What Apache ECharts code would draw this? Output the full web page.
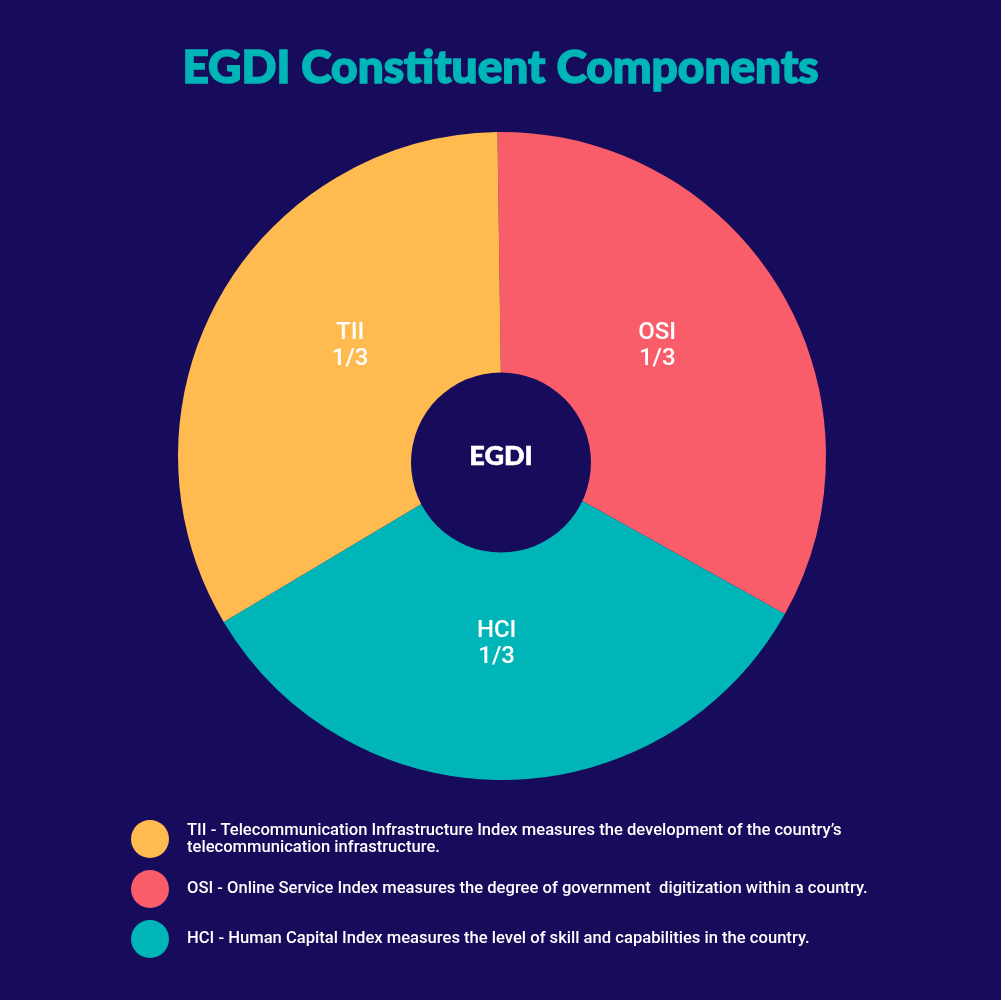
<!DOCTYPE html>
<html>
<head>
<meta charset="utf-8">
<title>EGDI Constituent Components</title>
<script src="https://cdn.jsdelivr.net/npm/echarts@6/dist/echarts.min.js"></script>
<style>
    html, body { margin: 0; padding: 0; background: #170b5b; }
    #chart { width: 1001px; height: 1000px; }
</style>
</head>
<body>
<div id="chart"></div>
<script>
var names = ["OSI", "HCI", "TII"];
var shares = [1, 1, 1];
var shareLabels = ["1/3", "1/3", "1/3"];
var legendOrder = ["TII", "OSI", "HCI"];
var legendTexts = {
    TII: "TII - Telecommunication Infrastructure Index measures the development of the country\u2019s\ntelecommunication infrastructure.",
    OSI: "OSI - Online Service Index measures the degree of government  digitization within a country.",
    HCI: "HCI - Human Capital Index measures the level of skill and capabilities in the country."
};
var colors = {OSI: "#f95d6a", HCI: "#00b5b8", TII: "#ffbb50"};
var bg = "#170b5b";

var myChart = echarts.init(document.getElementById("chart"), null, {renderer: "canvas"});

// the labels sit a bit off the slice middle in the original
var labelShift = {OSI: [-8, -13], HCI: [-8, -2], TII: [14, -17]};

var pieData = names.map(function (n, i) {
    return {
        name: n,
        value: shares[i],
        itemStyle: {color: colors[n]},
        label: {
            formatter: n + "\n" + shareLabels[i],
            offset: labelShift[n]
        }
    };
});

var option = {
    backgroundColor: bg,
    animation: false,
    title: {
        text: "EGDI Constituent Components",
        left: "center",
        top: 40,
        textStyle: {
            color: "#00b5b8",
            fontFamily: "Lato",
            fontWeight: 900,
            fontSize: 46,
            textBorderColor: "#00b5b8",
            textBorderWidth: 1.6
        }
    },
    legend: {
        orient: "vertical",
        left: 126,
        top: 815,
        data: legendOrder,
        icon: "circle",
        itemWidth: 38,
        itemHeight: 38,
        itemGap: 12,
        selectedMode: false,
        formatter: function (n) {
            return legendTexts[n];
        },
        textStyle: {
            color: "#ffffff",
            fontFamily: "Roboto",
            fontWeight: 500,
            fontSize: 16.6,
            lineHeight: 17,
            padding: [4, 0, 0, 13]
        }
    },
    series: [
        {
            name: "EGDI",
            type: "pie",
            center: [502, 456],
            radius: [50, 324],
            startAngle: 90.8,
            clockwise: true,
            silent: true,
            data: pieData,
            labelLine: {show: false},
            label: {
                position: "inside",
                color: "#ffffff",
                fontFamily: "Roboto",
                fontWeight: 500,
                fontSize: 24,
                lineHeight: 26
            },
            itemStyle: {borderWidth: 0}
        },
        {
            // hole sits a few px lower than the pie center
            name: "center",
            type: "pie",
            center: [501, 462.5],
            radius: [0, 90],
            silent: true,
            z: 5,
            data: [{name: "EGDI", value: 1, itemStyle: {color: bg}}],
            labelLine: {show: false},
            label: {
                position: "center",
                color: "#ffffff",
                fontFamily: "Lato",
                fontWeight: 900,
                fontSize: 27,
                offset: [0, -6],
                textBorderColor: "#ffffff",
                textBorderWidth: 0.6
            }
        }
    ]
};

myChart.setOption(option);
</script>
</body>
</html>
